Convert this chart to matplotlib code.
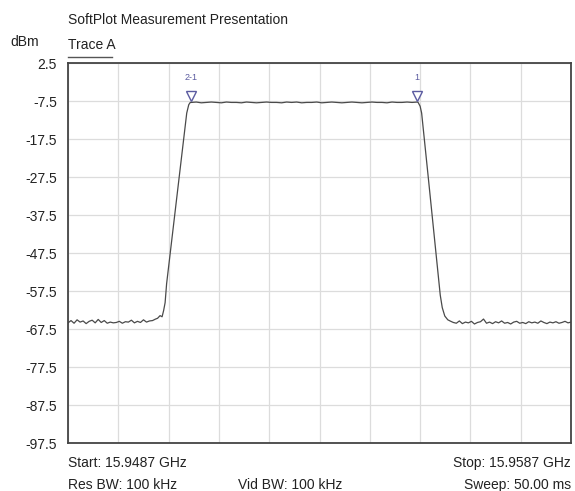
import numpy as np
import matplotlib
matplotlib.use("Agg")
from matplotlib import pyplot as plt
from matplotlib.lines import Line2D
from matplotlib.transforms import offset_copy

plt.rcParams['font.family'] = ['Liberation Sans', 'DejaVu Sans']

# Trace A, frequency offset from start in MHz, level in dBm
left_floor = [-65.8, -65.2, -65.9, -65.0, -65.6, -65.3, -66.0, -65.4, -65.1, -65.8,
              -64.9, -65.7, -65.2, -65.9, -65.6, -65.8, -65.7, -65.4, -65.9, -65.5,
              -65.6, -65.1, -65.8, -65.4, -65.7, -65.0, -65.6, -65.3, -65.2, -64.8]
rise_freq = [1.78, 1.83, 1.87, 1.90, 1.93, 1.96, 2.00, 2.09, 2.16, 2.26, 2.36, 2.40, 2.43]
rise_level = [-64.6, -63.9, -64.2, -62.6, -60.5, -55.5, -51.0, -41.0, -33.0, -21.8, -10.6, -8.4, -7.8]
top_level = [-7.8, -7.7, -7.9, -7.8, -7.7, -7.8, -7.9, -7.7, -7.8, -7.8,
             -7.9, -7.7, -7.8, -7.9, -7.8, -7.7, -7.8, -7.8, -7.9, -7.7,
             -7.8, -7.7, -7.9, -7.8, -7.8, -7.7, -7.9, -7.8, -7.7, -7.8,
             -7.9, -7.8, -7.7, -7.8, -7.9, -7.8, -7.7, -7.8, -7.8, -7.9,
             -7.7, -7.8, -7.8, -7.7, -7.8, -7.7]
fall_freq = [6.96, 7.00, 7.03, 7.10, 7.16, 7.25, 7.33, 7.36, 7.40, 7.44, 7.49, 7.55, 7.61]
fall_level = [-7.8, -8.8, -10.6, -19.5, -27.3, -39.1, -49.5, -53.7, -58.5, -61.8, -64.0, -65.0, -65.4]
right_floor = [-65.7, -65.9, -65.3, -66.0, -65.6, -65.8, -65.4, -66.1, -65.7, -65.5,
               -64.8, -65.9, -65.6, -66.0, -65.5, -65.8, -65.3, -65.9, -65.7, -66.1,
               -65.6, -65.4, -65.9, -65.7, -66.0, -65.5, -65.8, -65.6, -65.9, -65.3,
               -65.7, -66.0, -65.6, -65.8, -65.5, -65.9, -65.7, -65.4, -65.8, -65.6]

marker_names = ['2-1', '1']
marker_freq = [2.44, 6.94]
marker_level = [-7.8, -7.8]

y_ticks = [2.5, -7.5, -17.5, -27.5, -37.5, -47.5, -57.5, -67.5, -77.5, -87.5, -97.5]

freq = np.concatenate([np.linspace(0, 1.74, len(left_floor)), rise_freq,
                       np.linspace(2.45, 6.94, len(top_level)), fall_freq,
                       np.linspace(7.66, 10.0, len(right_floor))])
level = np.concatenate([left_floor, rise_level, top_level, fall_level, right_floor])

fig = plt.figure(figsize=(5.75, 4.91), dpi=100)
ax = fig.add_axes([0.1183, 0.0971, 0.8748, 0.7740])

ax.plot(freq, level, color='#4a4a4a', lw=0.9)

# markers sit just above the trace
mk_tr = offset_copy(ax.transData, fig=fig, y=4.5, units='points')
ax.plot(marker_freq, marker_level, linestyle='none', marker='v', ms=7,
        mfc='white', mec='#5b5ba0', mew=1.0, transform=mk_tr)
for name, f, lv in zip(marker_names, marker_freq, marker_level):
    ax.annotate(name, (f, lv), xytext=(0, 15), textcoords='offset points',
                ha='center', va='bottom', fontsize=6.5, color='#5b5ba0')

ax.set_xlim(0, 10)
ax.set_ylim(-97.5, 2.5)
ax.set_xticks(np.arange(0, 11, 1))
ax.set_yticks(y_ticks)
ax.set_yticklabels([f'{v:.1f}' for v in y_ticks])
ax.tick_params(axis='x', length=0, labelbottom=False)
ax.tick_params(axis='y', length=0, pad=8, labelsize=10, labelcolor='#222222')
ax.grid(True, color='#dcdcdc', lw=0.9)
for s in ax.spines.values():
    s.set_color('#444444')
    s.set_linewidth(1.3)

# header and footer texts
fig.text(68 / 575, 1 - 20 / 491, 'SoftPlot Measurement Presentation', fontsize=10,
         va='center', color='#222222')
fig.text(10 / 575, 1 - 42 / 491, 'dBm', fontsize=10, va='center', color='#222222')
fig.text(68 / 575, 1 - 45 / 491, 'Trace A', fontsize=10, va='center', color='#222222')
fig.add_artist(Line2D([68 / 575, 112 / 575], [1 - 57 / 491, 1 - 57 / 491],
                      color='#555555', lw=1.0))

fig.text(68 / 575, 1 - 463 / 491, 'Start: 15.9487 GHz', fontsize=10, va='center', color='#222222')
fig.text(571 / 575, 1 - 463 / 491, 'Stop: 15.9587 GHz', fontsize=10, va='center',
         ha='right', color='#222222')
fig.text(68 / 575, 1 - 485 / 491, 'Res BW: 100 kHz', fontsize=10, va='center', color='#222222')
fig.text(238 / 575, 1 - 485 / 491, 'Vid BW: 100 kHz', fontsize=10, va='center', color='#222222')
fig.text(571 / 575, 1 - 485 / 491, 'Sweep: 50.00 ms', fontsize=10, va='center',
         ha='right', color='#222222')

fig.savefig('out.png', dpi=100)
